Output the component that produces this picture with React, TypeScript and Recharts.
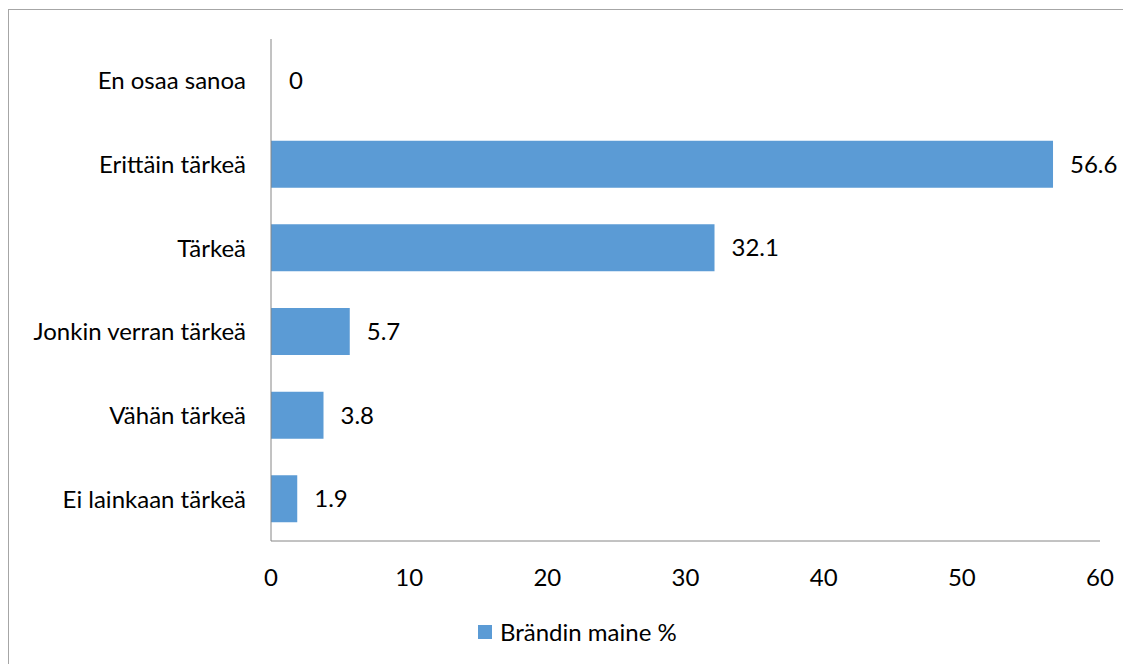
import { BarChart, Bar, XAxis, YAxis, Legend, LabelList, Cell } from "recharts"

const categories = [
  "En osaa sanoa",
  "Erittäin tärkeä",
  "Tärkeä",
  "Jonkin verran tärkeä",
  "Vähän tärkeä",
  "Ei lainkaan tärkeä",
]
const values = [0, 56.6, 32.1, 5.7, 3.8, 1.9]
const xTicks = [0, 10, 20, 30, 40, 50, 60]
const seriesName = "Brändin maine %"

const data = categories.map((name, i) => ({ name, value: values[i] }))

const FONT = "Lato, 'Open Sans', sans-serif"
const FS = 24
const BAR = "#5B9BD5"
const AXIS = "#868686"

const LegendBox = () => (
  <div style={{ display: "flex", alignItems: "center", fontFamily: FONT, fontSize: FS, color: "#000" }}>
    <span style={{ display: "inline-block", width: 14, height: 14, background: BAR, marginRight: 8 }} />
    <span>{seriesName}</span>
  </div>
)

export default function App() {
  return (
    <div
      style={{
        width: 1122,
        height: 655,
        borderTop: "1px solid #a6a6a6",
        borderLeft: "1px solid #a6a6a6",
        marginTop: 1,
        background: "#fff",
      }}
    >
      <BarChart
        width={1122}
        height={654}
        data={data}
        layout="vertical"
        margin={{ top: 29, right: 31, left: 0, bottom: 34 }}
        style={{ fontFamily: FONT }}
      >
        <XAxis
          type="number"
          domain={[0, 60]}
          ticks={xTicks}
          tickLine={false}
          axisLine={{ stroke: AXIS }}
          tick={{ fill: "#000", fontSize: FS }}
          tickMargin={22}
          height={60}
        />
        <YAxis
          type="category"
          dataKey="name"
          width={262}
          tickLine={false}
          axisLine={{ stroke: AXIS }}
          tick={{ fill: "#000", fontSize: FS }}
          tickMargin={19}
        />
        <Legend content={() => <LegendBox />} wrapperStyle={{ left: 469, top: 607, width: "auto" }} />
        <Bar dataKey="value" name={seriesName} fill={BAR} barSize={47} minPointSize={1} isAnimationActive={false}>
          {data.map((d) => (
            <Cell key={d.name} fill={d.value === 0 ? "transparent" : BAR} />
          ))}
          <LabelList dataKey="value" position="right" offset={17} fill="#000" fontSize={FS} />
        </Bar>
      </BarChart>
    </div>
  )
}
